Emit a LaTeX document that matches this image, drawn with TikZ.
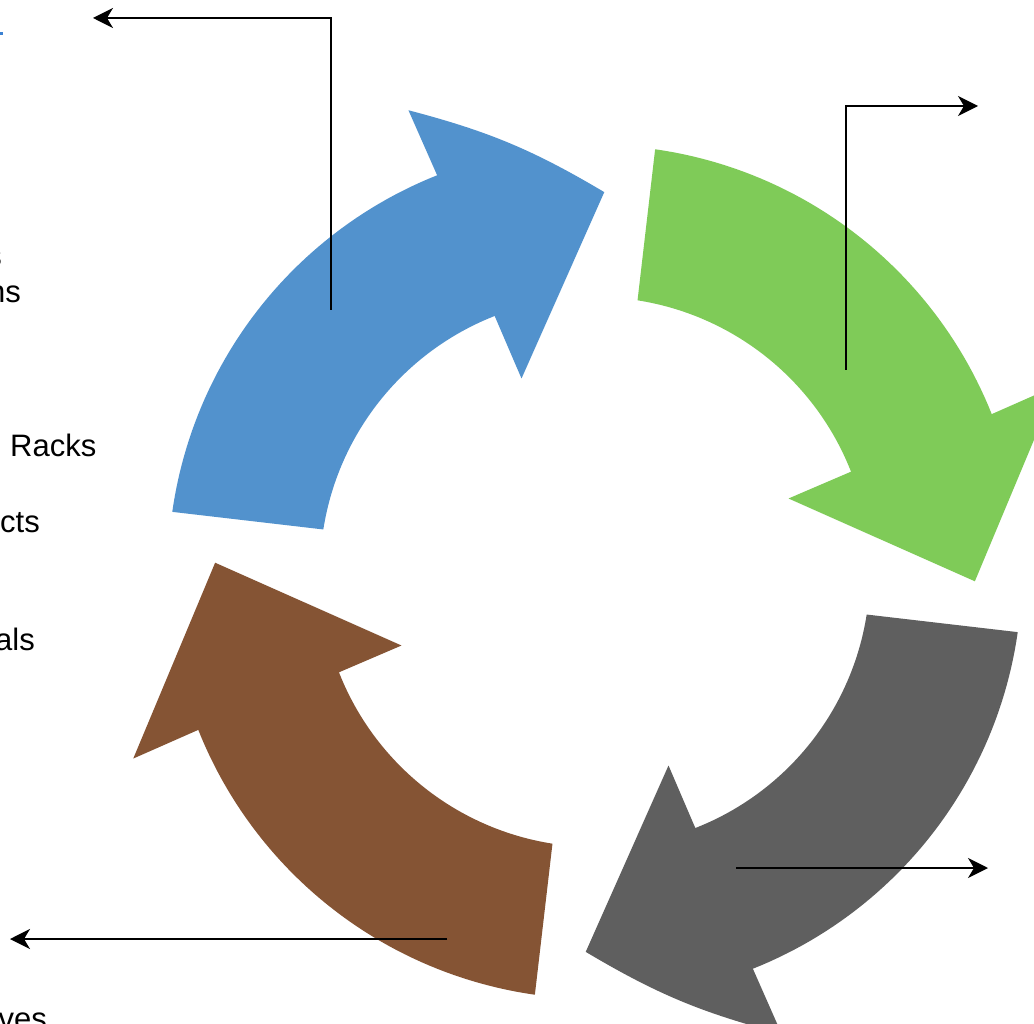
\documentclass[tikz,border=0pt]{standalone}
\usepackage{fontspec}
\setmainfont{Liberation Sans}
\usetikzlibrary{arrows.meta}
\definecolor{cblue}{RGB}{82,146,205}
\definecolor{cgreen}{RGB}{127,203,88}
\definecolor{cgrey}{RGB}{95,95,95}
\definecolor{cbrown}{RGB}{133,84,52}
\definecolor{clink}{RGB}{60,130,210}
% #1 rotation offset, #2 colour, #3 bend of the outer head edge
\newcommand\cyclearrow[3]{%
  \fill[#2] (#1+188.1:426)
    -- plot[domain=#1+188.1:#1+248.3, samples=50] (\x:427)
    -- (#1+248:498)
    to[bend left=#3] (#1+271.4:380)
    -- (#1+249.2:207)
    -- (#1+248.6:275)
    -- plot[domain=#1+248.6:#1+188.9, samples=50] (\x:275)
    -- cycle;}
\begin{document}
\begin{tikzpicture}[x=1pt,y=-1pt,
  conn/.style={draw=black, line width=1.9pt, -{Stealth[length=20pt,width=20pt,inset=6pt]}},
  lbl/.style={inner sep=0pt, font=\fontsize{31}{37}\selectfont}]
\useasboundingbox (0,0) rectangle (1034,1024);
\clip (0,0) rectangle (1034,1024);
\fill[white] (0,0) rectangle (1034,1024);
% the four curved arrows of the cycle
\begin{scope}[shift={(595,572)}]
  \cyclearrow{0}{cblue}{8}
  \cyclearrow{90}{cgreen}{0}
  \cyclearrow{180}{cgrey}{8}
  \cyclearrow{270}{cbrown}{0}
\end{scope}
% cut-off labels at the left edge
\draw[clink, line width=2.5pt] (-30,33.5) -- (3,33.5);
\node[lbl, anchor=base east] (t0) at (2,267) {s};
\node[lbl, anchor=base east] (t1) at (21,303) {ns};
\node[lbl, anchor=base west] (t2) at (10,456) {Racks};
\node[lbl, anchor=base east] (t3) at (40,532) {cts};
\node[lbl, anchor=base east] (t4) at (35,650) {als};
\node[lbl, anchor=base east] (t5) at (47,1029) {ves};
% connectors
\coordinate (bs) at (331,310);
\coordinate (be) at (93,18);
\coordinate (gs) at (846,370);
\coordinate (ge) at (978,106);
\coordinate (ys) at (736,868);
\coordinate (ye) at (988,868);
\coordinate (rs) at (447,939);
\coordinate (re) at (10,939);
\draw[conn] (bs) |- (be);
\draw[conn] (gs) |- (ge);
\draw[conn] (ys) -- (ye);
\draw[conn] (rs) -- (re);
\end{tikzpicture}
\end{document}
